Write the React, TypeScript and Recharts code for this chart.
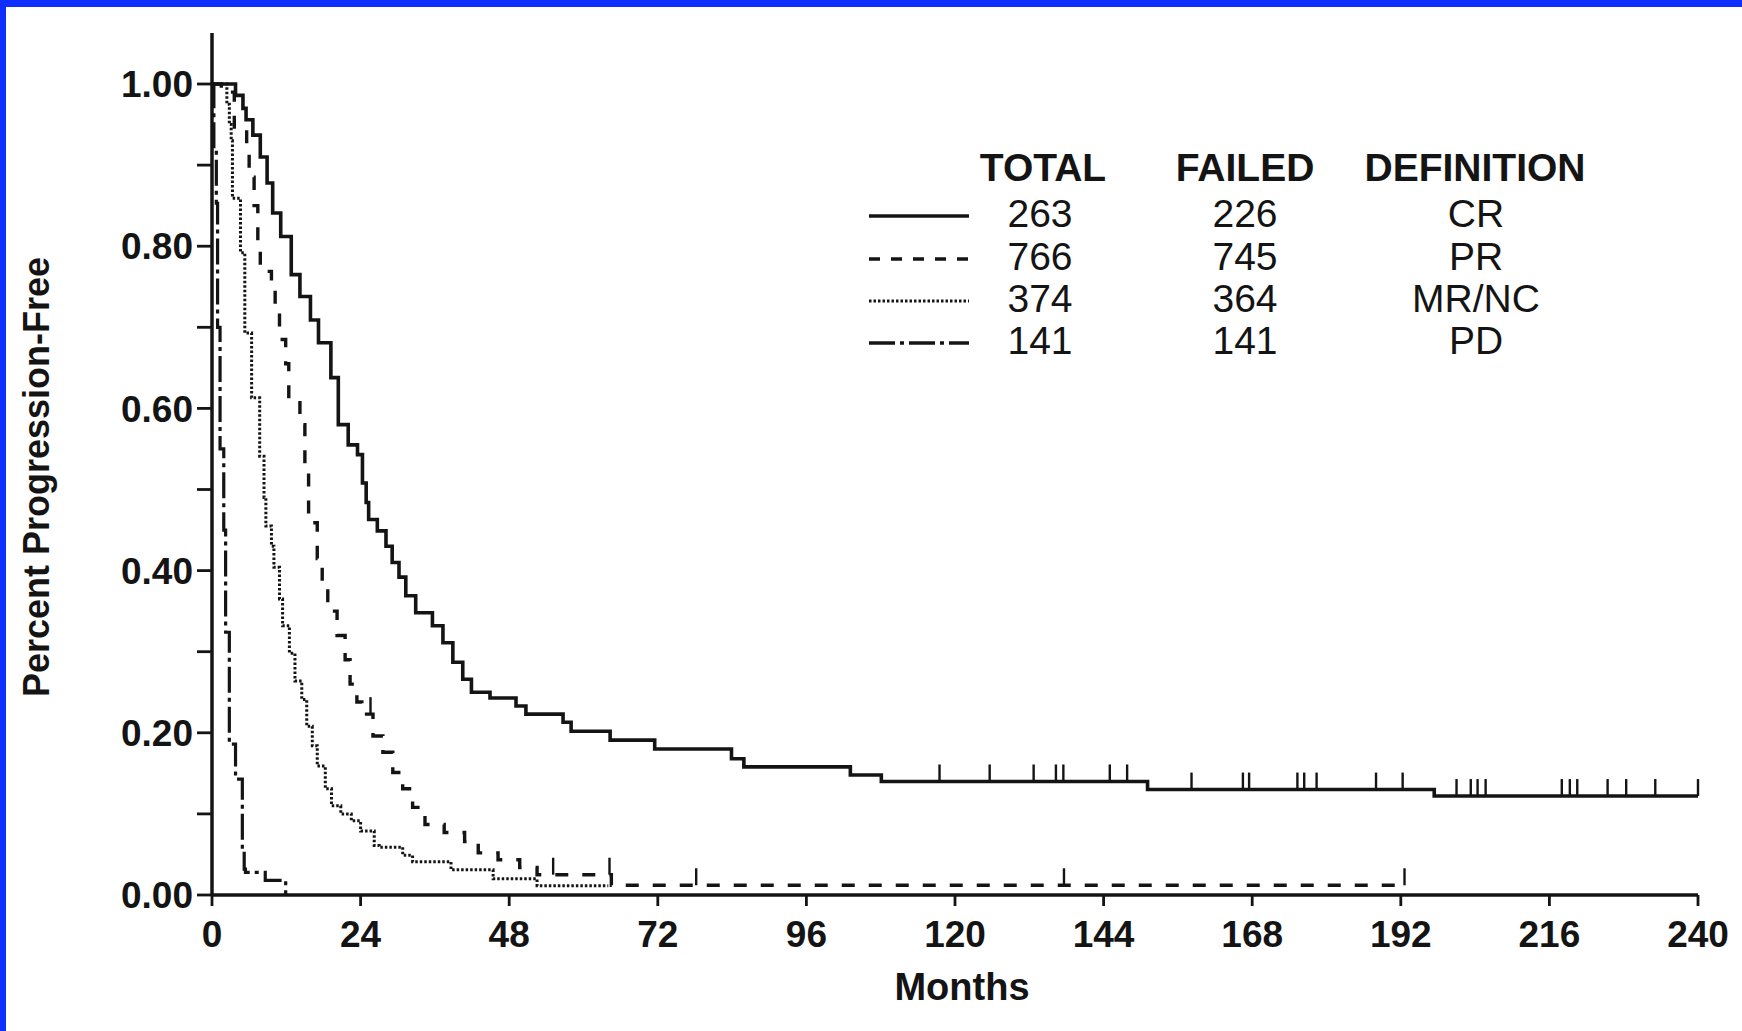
import { ComposedChart, Line, Scatter, XAxis, YAxis } from "recharts";

const W = 1742;
const H = 1031;
const INK = "#141414";
const BLUE = "#0f2fff";
const FONT = '"Liberation Sans", Arial, Helvetica, sans-serif';

const monthTicks = [0, 24, 48, 72, 96, 120, 144, 168, 192, 216, 240];
const survivalTicks = [0, 0.1, 0.2, 0.3, 0.4, 0.5, 0.6, 0.7, 0.8, 0.9, 1.0];

// [month of step, proportion progression-free after the step]
const crSteps: [number, number][] = [
  [0, 1.0], [3.8, 0.986], [5.0, 0.97], [5.5, 0.956], [6.6, 0.937], [7.8, 0.91],
  [8.9, 0.878], [9.8, 0.841], [11.1, 0.812], [12.8, 0.765], [14.2, 0.738],
  [15.9, 0.709], [17.2, 0.681], [19.2, 0.638], [20.4, 0.58], [22.0, 0.555],
  [23.5, 0.543], [24.3, 0.508], [24.9, 0.484], [25.3, 0.463], [26.7, 0.449],
  [28.1, 0.43], [29.1, 0.41], [30.2, 0.392], [31.3, 0.369], [32.9, 0.348],
  [35.6, 0.332], [37.3, 0.311], [38.9, 0.287], [40.5, 0.266], [41.9, 0.25],
  [44.9, 0.243], [49.1, 0.233], [50.7, 0.223], [56.7, 0.213], [58.0, 0.202],
  [64.3, 0.191], [71.5, 0.18], [83.9, 0.168], [85.9, 0.158], [103.1, 0.148],
  [108.1, 0.14], [151.1, 0.13], [197.4, 0.122], [240, 0.122],
];
const crCensored: [number, number][] = [
  [117.5, 0.14], [125.6, 0.14], [132.7, 0.14], [136.3, 0.14], [137.5, 0.14],
  [145.0, 0.14], [147.8, 0.14], [158.2, 0.13], [166.5, 0.13], [167.5, 0.13],
  [175.3, 0.13], [176.4, 0.13], [178.4, 0.13], [188.0, 0.13], [192.3, 0.13],
  [201.0, 0.122], [203.3, 0.122], [204.4, 0.122], [205.7, 0.122], [218.0, 0.122],
  [219.3, 0.122], [220.5, 0.122], [225.4, 0.122], [228.4, 0.122], [233.1, 0.122],
  [240, 0.122],
];

const prSteps: [number, number][] = [
  [0, 1.0], [1.5, 0.99], [3.6, 0.947], [5.6, 0.92], [6.0, 0.885], [6.8, 0.85],
  [7.4, 0.8], [7.8, 0.769], [9.6, 0.745], [10.2, 0.722], [10.9, 0.685],
  [11.9, 0.655], [12.4, 0.607], [14.2, 0.58], [15.0, 0.53], [15.6, 0.459],
  [17.0, 0.415], [17.8, 0.383], [18.7, 0.35], [20.2, 0.32], [21.5, 0.29],
  [22.3, 0.26], [23.4, 0.238], [24.2, 0.223], [26.0, 0.196], [27.6, 0.176],
  [29.2, 0.151], [30.8, 0.131], [32.4, 0.108], [34.4, 0.087], [37.5, 0.077],
  [40.8, 0.066], [43.0, 0.052], [46.2, 0.0435], [49.7, 0.034], [52.5, 0.025],
  [64.5, 0.012], [192.6, 0.012],
];
const prCensored: [number, number][] = [
  [25.6, 0.223], [55.1, 0.025], [64.2, 0.025], [78.2, 0.012], [137.6, 0.012], [192.6, 0.012],
];

const mrSteps: [number, number][] = [
  [0, 1.0], [2.4, 0.975], [2.8, 0.95], [3.1, 0.93], [3.3, 0.859], [4.6, 0.792],
  [5.3, 0.693], [6.4, 0.613], [7.7, 0.541], [8.4, 0.49], [8.7, 0.455], [9.6, 0.43],
  [10.0, 0.404], [10.9, 0.365], [11.4, 0.332], [12.5, 0.298], [13.4, 0.264],
  [14.5, 0.241], [15.3, 0.208], [16.2, 0.184], [17.0, 0.159], [18.3, 0.131],
  [19.3, 0.11], [20.8, 0.1], [22.5, 0.0915], [24.0, 0.079], [26.2, 0.061],
  [27.0, 0.059], [30.8, 0.049], [32.4, 0.041], [38.6, 0.031], [45.4, 0.02],
  [52.5, 0.0115], [64.0, 0.0115],
];

const pdSteps: [number, number][] = [
  [0, 1.0], [0.3, 0.92], [0.7, 0.853], [0.9, 0.7], [1.3, 0.55], [1.9, 0.45],
  [2.2, 0.324], [2.8, 0.186], [3.8, 0.143], [4.9, 0.057], [5.2, 0.032],
  [5.4, 0.028], [8.6, 0.018], [11.9, 0],
];

// legend table
const legendTotal = [263, 766, 374, 141];
const legendFailed = [226, 745, 364, 141];
const legendDefinition = ["CR", "PR", "MR/NC", "PD"];
const legendDash = ["", "11 11", "2.5 2", "26 5 4 5"];

const toPoints = (steps: [number, number][]) => steps.map(([t, s]) => ({ t, s }));

const censorMark = (props: any) => (
  <line
    x1={props.cx}
    y1={props.cy}
    x2={props.cx}
    y2={props.cy - 17}
    stroke={INK}
    strokeWidth={2.4}
  />
);

const yTickFormat = (v: number) => (Math.round(v * 10) % 2 === 0 ? v.toFixed(2) : "");

export default function App() {
  const tickStyle = { fill: INK, fontSize: 37, fontWeight: 700, fontFamily: FONT };
  const rowY = [213, 256, 298, 340];

  return (
    <div style={{ position: "absolute", left: 0, top: 0, width: W, height: H, background: "#fff" }}>
      <div style={{ position: "absolute", left: 0, top: 0, width: W, height: 7, background: BLUE }} />
      <div style={{ position: "absolute", left: 0, top: 0, width: 6, height: H, background: BLUE }} />
      <div style={{ position: "absolute", left: 0, top: 0 }}>
        <ComposedChart width={W} height={H} margin={{ top: 33, right: 44, bottom: 76, left: 0 }}>
          <XAxis
            type="number"
            dataKey="t"
            domain={[0, 240]}
            ticks={monthTicks}
            interval={0}
            height={60}
            tickSize={11}
            tickMargin={15}
            tick={tickStyle}
            tickLine={{ stroke: INK, strokeWidth: 2.8 }}
            axisLine={{ stroke: INK, strokeWidth: 3.5 }}
          />
          <XAxis
            xAxisId="top"
            orientation="top"
            type="number"
            domain={[0, 240]}
            height={0}
            tick={false}
            tickLine={false}
            axisLine={{ stroke: INK, strokeWidth: 3.5 }}
          />
          <YAxis
            type="number"
            domain={[0, 1.0629]}
            ticks={survivalTicks}
            interval={0}
            width={212}
            tickSize={15}
            tickMargin={4}
            tickFormatter={yTickFormat}
            tick={tickStyle}
            tickLine={{ stroke: INK, strokeWidth: 2.8 }}
            axisLine={{ stroke: INK, strokeWidth: 3.5 }}
          />
          <YAxis
            yAxisId="right"
            orientation="right"
            type="number"
            domain={[0, 1.0629]}
            width={0}
            tick={false}
            tickLine={false}
            axisLine={{ stroke: INK, strokeWidth: 3.5 }}
          />
          <Line
            data={toPoints(pdSteps)}
            dataKey="s"
            type="stepAfter"
            stroke={INK}
            strokeWidth={3.2}
            strokeDasharray="26 5 4 5"
            dot={false}
            activeDot={false}
            isAnimationActive={false}
          />
          <Line
            data={toPoints(mrSteps)}
            dataKey="s"
            type="stepAfter"
            stroke={INK}
            strokeWidth={3}
            strokeDasharray="2.5 2"
            dot={false}
            activeDot={false}
            isAnimationActive={false}
          />
          <Line
            data={toPoints(prSteps)}
            dataKey="s"
            type="stepAfter"
            stroke={INK}
            strokeWidth={3.4}
            strokeDasharray="13 14"
            dot={false}
            activeDot={false}
            isAnimationActive={false}
          />
          <Line
            data={toPoints(crSteps)}
            dataKey="s"
            type="stepAfter"
            stroke={INK}
            strokeWidth={3.6}
            dot={false}
            activeDot={false}
            isAnimationActive={false}
          />
          <Scatter data={toPoints(prCensored)} dataKey="s" shape={censorMark} isAnimationActive={false} />
          <Scatter data={toPoints(crCensored)} dataKey="s" shape={censorMark} isAnimationActive={false} />
        </ComposedChart>
      </div>
      <svg
        width={W}
        height={H}
        style={{ position: "absolute", left: 0, top: 0, pointerEvents: "none" }}
        fontFamily={FONT}
        fill={INK}
      >
        <text x={49} y={477} fontSize={36} fontWeight={700} textAnchor="middle" transform="rotate(-90 49 477)">
          Percent Progression-Free
        </text>
        <text x={962} y={1000} fontSize={38} fontWeight={700} textAnchor="middle">
          Months
        </text>
        <g fontSize={39} textAnchor="middle">
          <text x={1043} y={181} fontWeight={700}>TOTAL</text>
          <text x={1245} y={181} fontWeight={700}>FAILED</text>
          <text x={1475} y={181} fontWeight={700}>DEFINITION</text>
          {legendTotal.map((v, i) => (
            <text key={"t" + i} x={1040} y={rowY[i] + 14}>{v}</text>
          ))}
          {legendFailed.map((v, i) => (
            <text key={"f" + i} x={1245} y={rowY[i] + 14}>{v}</text>
          ))}
          {legendDefinition.map((v, i) => (
            <text key={"d" + i} x={1476} y={rowY[i] + 14}>{v}</text>
          ))}
        </g>
        {legendDash.map((d, i) => (
          <line
            key={"l" + i}
            x1={869}
            x2={969}
            y1={rowY[i] + 3}
            y2={rowY[i] + 3}
            stroke={INK}
            strokeWidth={i === 2 ? 3 : 3.4}
            strokeDasharray={d || undefined}
          />
        ))}
      </svg>
    </div>
  );
}
